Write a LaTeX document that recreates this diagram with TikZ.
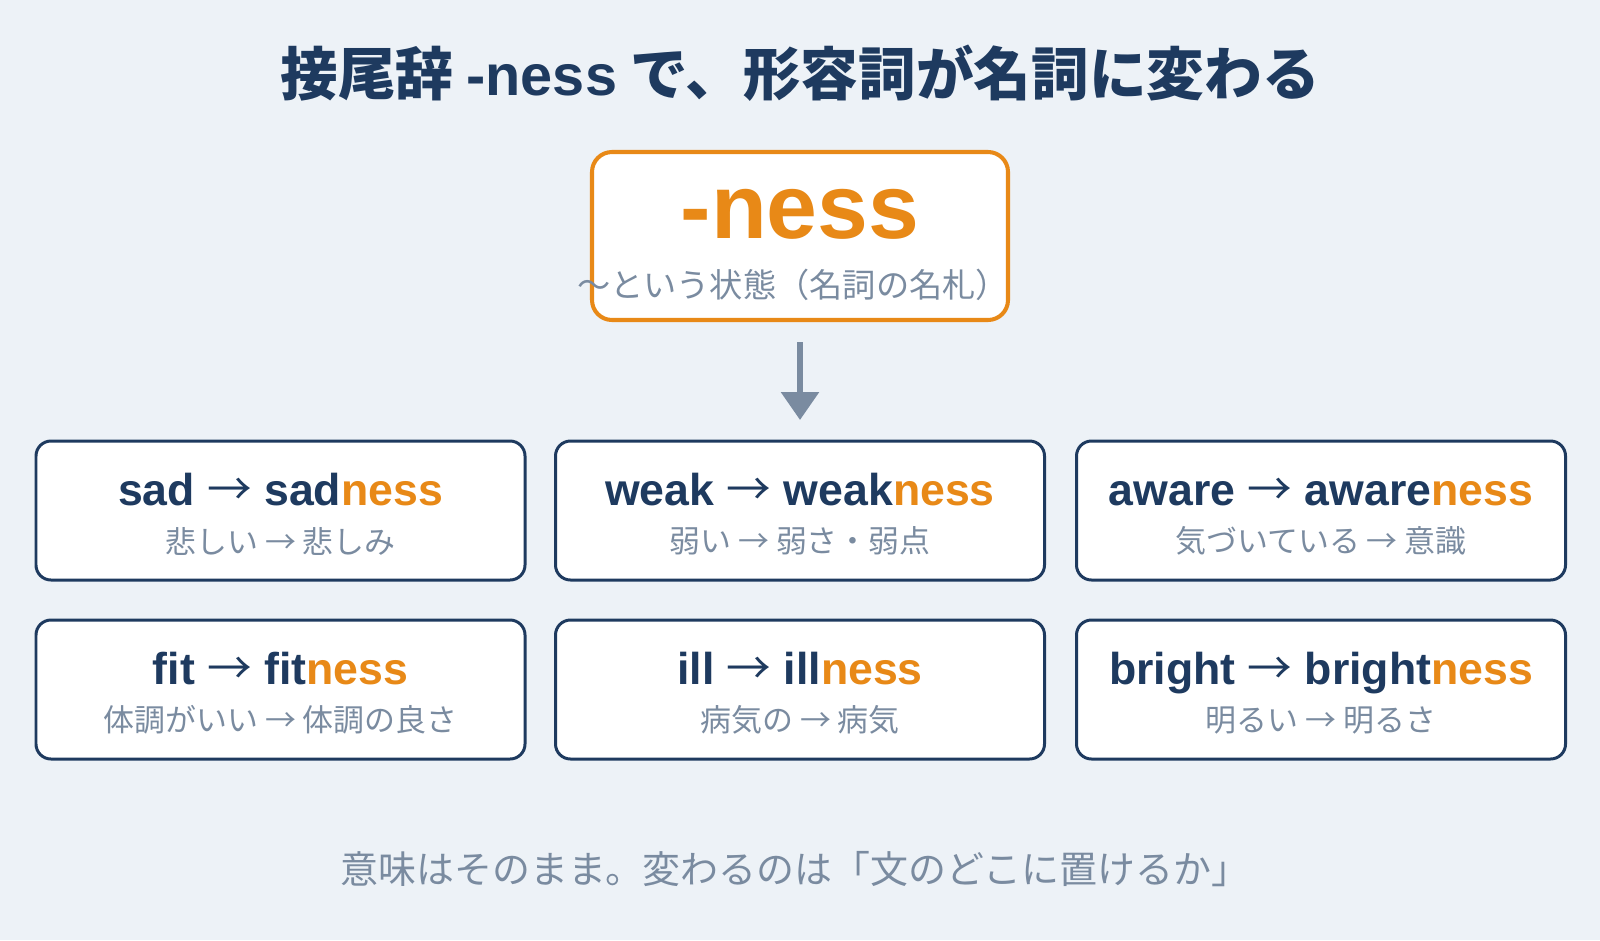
\documentclass[tikz,border=0pt]{standalone}
\usepackage{fontspec}
\setmainfont{Noto Sans CJK JP}
\newfontfamily\latinfont{Liberation Sans}
\usepackage{tikz}
\usetikzlibrary{arrows.meta}
\usetikzlibrary{positioning}
\definecolor{mnavy}{rgb}{0.118, 0.227, 0.373}
\definecolor{morange}{rgb}{0.91, 0.537, 0.09}
\definecolor{mgray}{rgb}{0.478, 0.545, 0.627}
\definecolor{mbg}{rgb}{0.929, 0.949, 0.969}
\tikzset{card/.style = {draw = mnavy, line width = 0.85pt, fill = white, rounded corners = 0.15cm, minimum width = 4.89cm, minimum height = 1.39cm, inner sep = 0}}
\tikzset{word/.style = {anchor = base, text = mnavy, inner sep = 0, font = \latinfont\bfseries\fontsize{12.7}{14}\selectfont}}
\tikzset{gloss/.style = {text = mgray, inner sep = 0, font = \fontsize{8.8}{10}\selectfont}}
\tikzset{flow/.style = {draw = mgray, line width = 1.7pt, -{Triangle[width = 0.37cm, length = 0.28cm]}, shorten < = 0.2cm}}
\newcommand{\sfx}{\textcolor{morange}{ness}}
\newcommand{\toarrow}{{\normalfont →}}

\begin{document}
\begin{tikzpicture}
    \useasboundingbox (0, 0) rectangle (16, 9.4);
    \fill [mbg] (0, 0) rectangle (16, 9.4);

    % title
    \node [text = mnavy, font = \bfseries\fontsize{16.4}{19}\selectfont] (title) at (8, 8.665)
      {接尾辞 {\latinfont -ness} で、形容詞が名詞に変わる};

    % suffix box
    \node [draw = morange, line width = 1.15pt, fill = white, rounded corners = 0.2cm,
      minimum width = 4.16cm, minimum height = 1.68cm] (nessbox) at (8, 7.04) {};
    \node [anchor = base, inner sep = 0, text = morange, font = \latinfont\bfseries\fontsize{26}{30}\selectfont]
      (ness) at (8, 7.02) {-ness};
    \node [gloss, font = \fontsize{9.45}{11}\selectfont] (nessjp) at (7.93, 6.55) {～という状態（名詞の名札）};

    \coordinate (tip) at (8, 5.2);
    \draw [flow] (nessbox) -- (tip);

    % row 1
    \node [card] (sad) at (2.805, 4.295) {};
    \node [word] (sadw) at ([yshift = 0.055cm]sad.center) {sad \toarrow{} sad\sfx};
    \node [gloss] (sadj) at ([yshift = -0.305cm]sad.center) {悲しい \toarrow{} 悲しみ};

    \node [card] (weak) at (8, 4.295) {};
    \node [word] (weakw) at ([yshift = 0.055cm]weak.center) {weak \toarrow{} weak\sfx};
    \node [gloss] (weakj) at ([yshift = -0.305cm]weak.center) {弱い \toarrow{} 弱さ・弱点};

    \node [card] (aware) at (13.21, 4.295) {};
    \node [word] (awarew) at ([yshift = 0.055cm]aware.center) {aware \toarrow{} aware\sfx};
    \node [gloss] (awarej) at ([yshift = -0.305cm]aware.center) {気づいている \toarrow{} 意識};

    % row 2
    \node [card] (fit) at (2.805, 2.505) {};
    \node [word] (fitw) at ([yshift = 0.055cm]fit.center) {fit \toarrow{} fit\sfx};
    \node [gloss] (fitj) at ([yshift = -0.305cm]fit.center) {体調がいい \toarrow{} 体調の良さ};

    \node [card] (ill) at (8, 2.505) {};
    \node [word] (illw) at ([yshift = 0.055cm]ill.center) {ill \toarrow{} ill\sfx};
    \node [gloss] (illj) at ([yshift = -0.305cm]ill.center) {病気の \toarrow{} 病気};

    \node [card] (bright) at (13.21, 2.505) {};
    \node [word] (brightw) at ([yshift = 0.055cm]bright.center) {bright \toarrow{} bright\sfx};
    \node [gloss] (brightj) at ([yshift = -0.305cm]bright.center) {明るい \toarrow{} 明るさ};

    % note
    \node [gloss, font = \fontsize{10.8}{13}\selectfont] (note) at (7.95, 0.71)
      {意味はそのまま。変わるのは「文のどこに置けるか」};
  \end{tikzpicture}
\end{document}
